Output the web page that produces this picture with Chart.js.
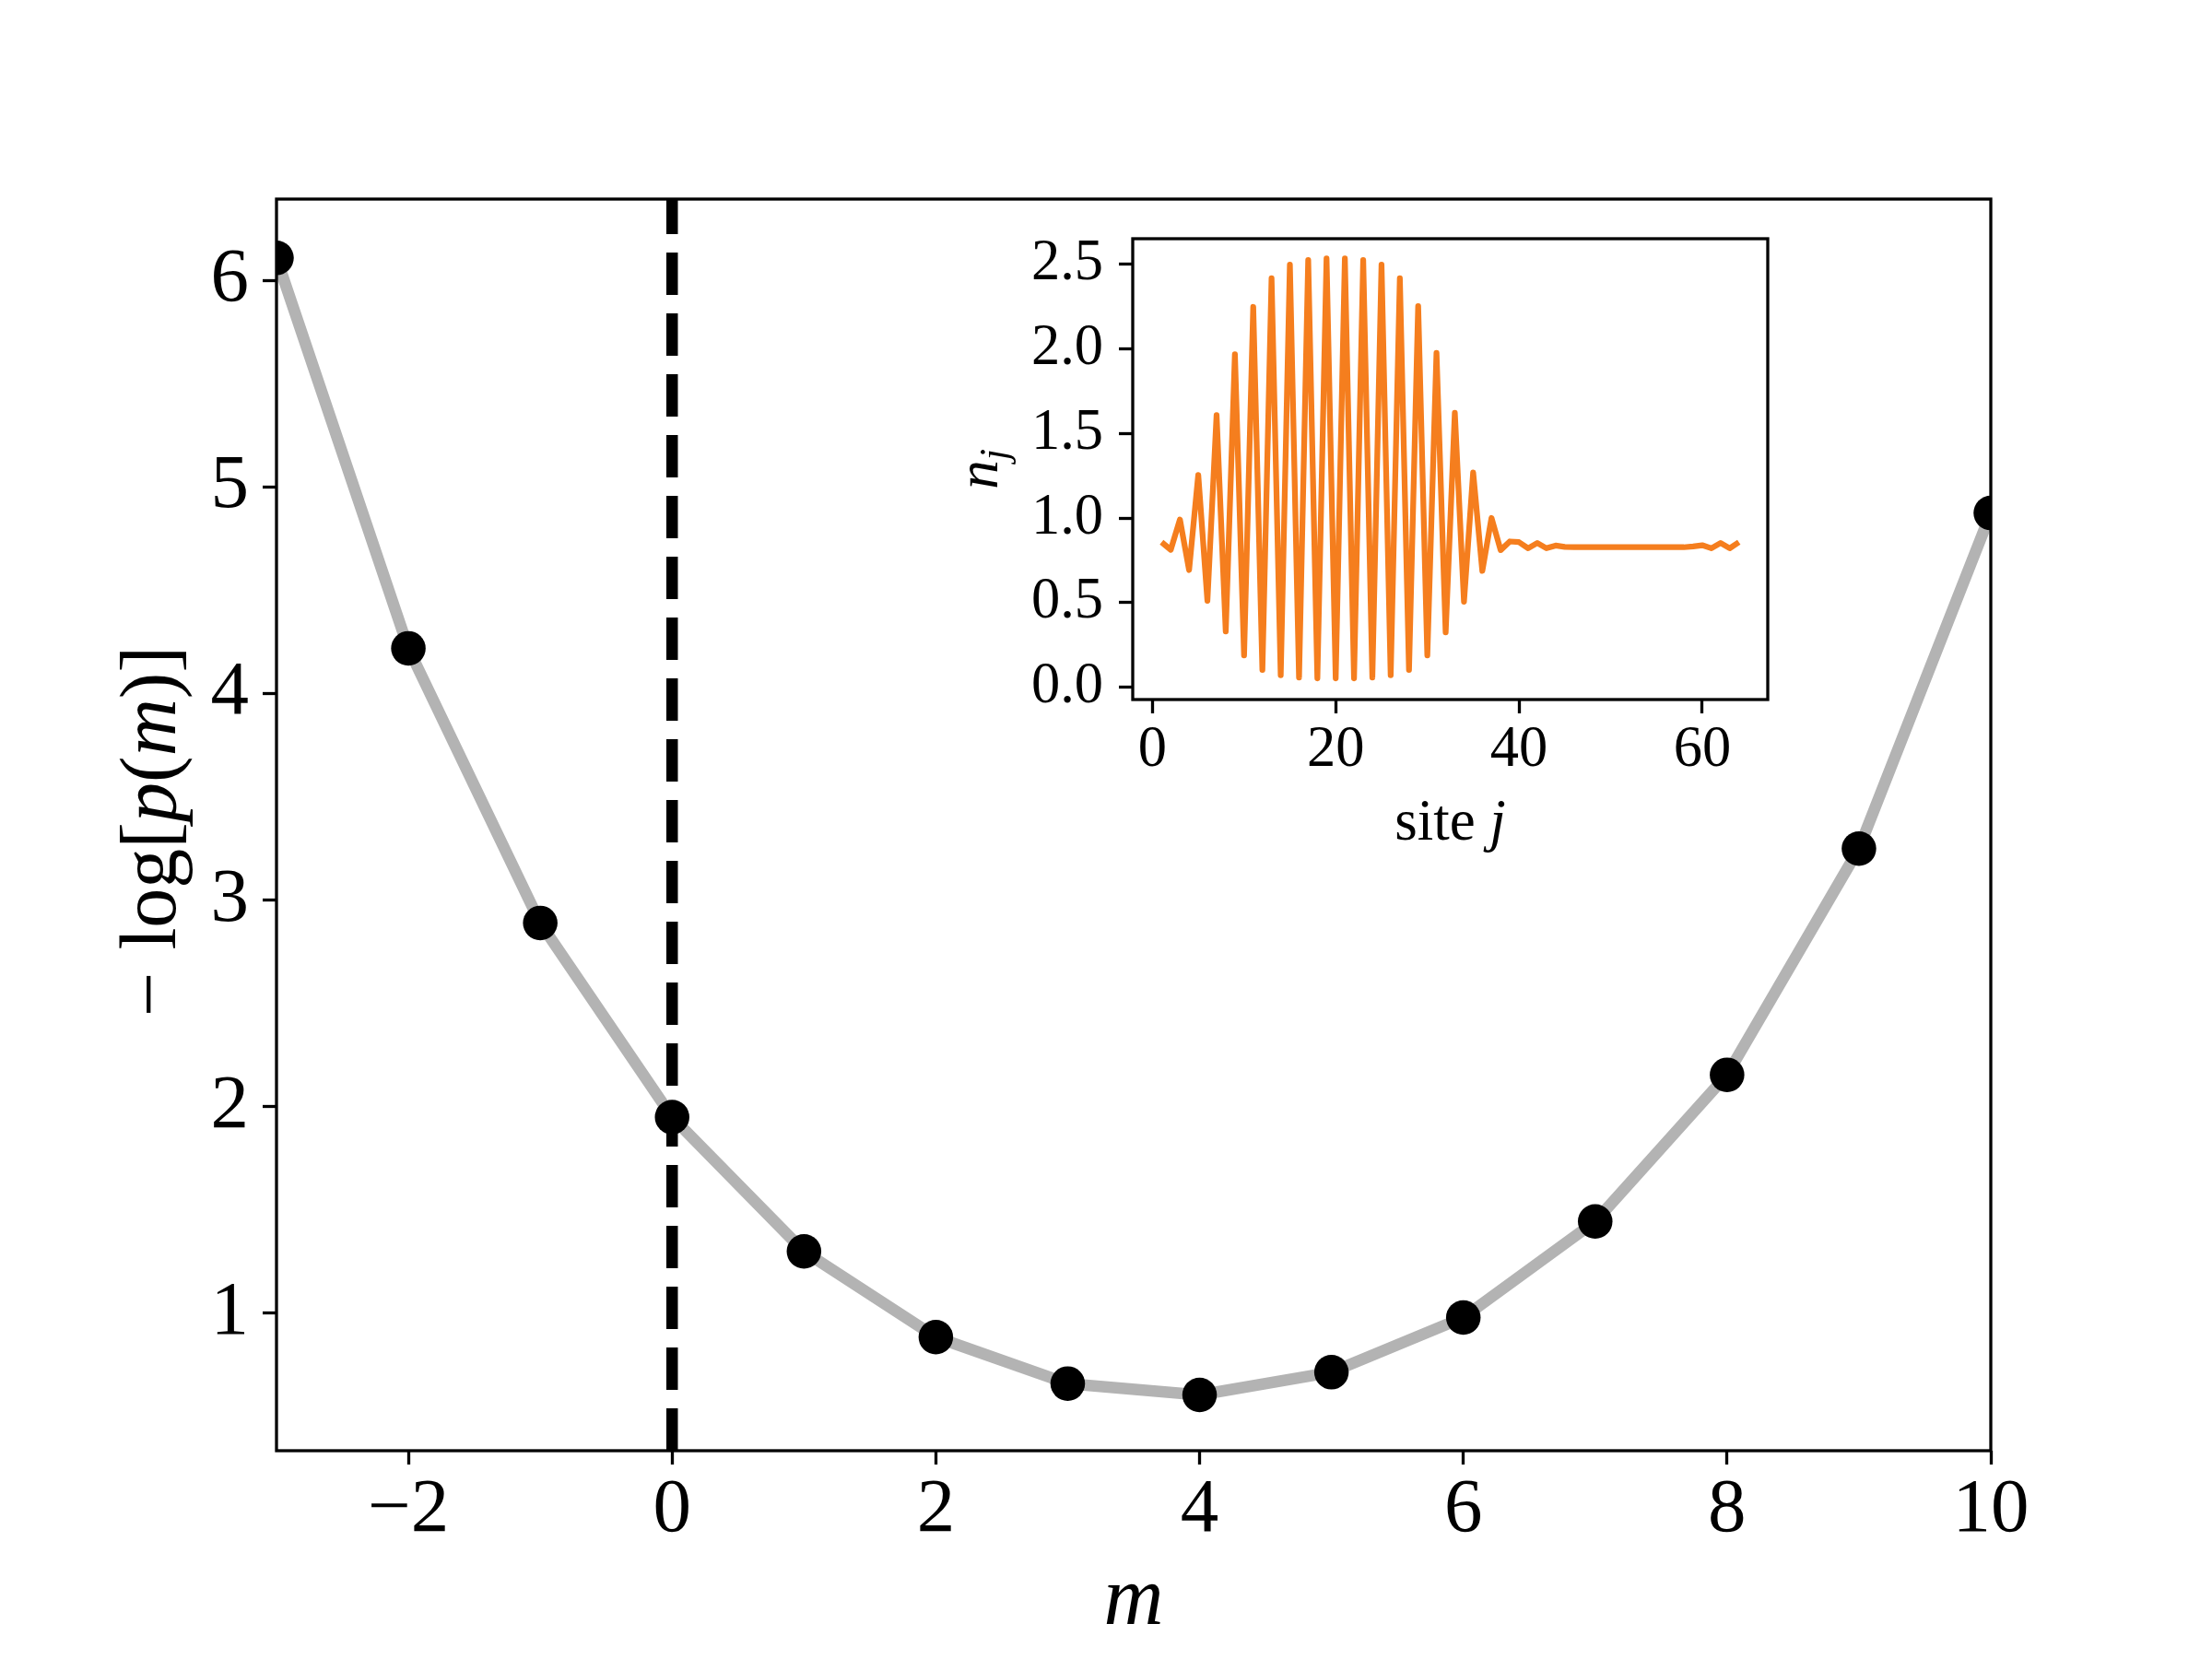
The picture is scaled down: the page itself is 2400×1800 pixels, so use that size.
<!DOCTYPE html>
<html>
<head>
<meta charset="utf-8">
<title>-log p(m) with site density inset</title>
<script src="https://cdn.jsdelivr.net/npm/chart.js@4.4.1/dist/chart.umd.min.js"></script>
<style>
    body { margin: 0; background: #fff; }
    #wrap { position: relative; width: 2400px; height: 1800px; background: #fff; }
    #mainChart { position: absolute; left: 0; top: 0; }
    #insetChart { position: absolute; left: 1000px; top: 230px; }
</style>
</head>
<body>
<div id="wrap">
    <canvas id="mainChart" width="2400" height="1800"></canvas>
    <canvas id="insetChart" width="950" height="700"></canvas>
</div>
<script>
// main panel: -log p(m) vs m
const mValues = [-3, -2, -1, 0, 1, 2, 3, 4, 5, 6, 7, 8, 9, 10];
const negLogP = [6.11, 4.22, 2.89, 1.95, 1.30, 0.885, 0.66, 0.605, 0.715, 0.98, 1.445, 2.155, 3.25, 4.875];
const mTicks = [-2, 0, 2, 4, 6, 8, 10];
const negLogPTicks = [1, 2, 3, 4, 5, 6];
const mRange = [-3, 10];
const negLogPRange = [0.335, 6.395];
const markerLineM = 0; // dashed vertical line

// inset: density n_j per site j
const sites = [1, 2, 3, 4, 5, 6, 7, 8, 9, 10, 11, 12, 13, 14, 15, 16, 17, 18, 19, 20,
    21, 22, 23, 24, 25, 26, 27, 28, 29, 30, 31, 32, 33, 34, 35, 36, 37, 38, 39, 40,
    41, 42, 43, 44, 45, 46, 47, 48, 49, 50, 51, 52, 53, 54, 55, 56, 57, 58, 59, 60,
    61, 62, 63, 64];
const density = [0.858, 0.813, 0.992, 0.693, 1.255, 0.512, 1.609, 0.330, 1.968, 0.189,
    2.248, 0.103, 2.417, 0.071, 2.498, 0.058, 2.525, 0.053, 2.534, 0.053,
    2.534, 0.053, 2.525, 0.058, 2.498, 0.071, 2.417, 0.103, 2.253, 0.189,
    1.977, 0.325, 1.622, 0.506, 1.270, 0.688, 1.001, 0.811, 0.862, 0.858,
    0.822, 0.853, 0.822, 0.838, 0.830, 0.828, 0.828, 0.828, 0.828, 0.828,
    0.828, 0.828, 0.828, 0.828, 0.828, 0.828, 0.828, 0.828, 0.833, 0.840,
    0.822, 0.853, 0.822, 0.858];
const siteTicks = [0, 20, 40, 60];
const densityTicks = [0.0, 0.5, 1.0, 1.5, 2.0, 2.5];
const siteRange = [-2.15, 67.15];
const densityRange = [-0.072, 2.651];

const FONT = 'Liberation Serif';

function partFont(part, size) {
    return (part.italic ? 'italic ' : '') + Math.round(size * (part.scale || 1)) + 'px "' + FONT + '"';
}

// axis labels with mixed upright / italic pieces
function drawRich(ctx, label, area) {
    const [x, y] = label.at(area);
    ctx.save();
    ctx.translate(x, y);
    if (label.rotate) ctx.rotate(label.rotate);
    ctx.fillStyle = '#000';
    ctx.textBaseline = 'alphabetic';
    ctx.textAlign = 'left';
    let total = 0;
    const widths = label.parts.map(p => {
        ctx.font = partFont(p, label.size);
        const w = ctx.measureText(p.text).width + (p.gap || 0);
        total += w;
        return w;
    });
    let cx = -total / 2;
    label.parts.forEach((p, i) => {
        ctx.font = partFont(p, label.size);
        ctx.fillText(p.text, cx, (p.shift || 0) * label.size);
        cx += widths[i];
    });
    ctx.restore();
}

// box around the axes, optional white fill, and the axis titles
function makeFrame(cfg) {
    return {
        id: 'frame',
        beforeDraw(chart) {
            if (!cfg.fill) return;
            const { ctx, chartArea: a } = chart;
            ctx.save();
            ctx.fillStyle = cfg.fill;
            ctx.fillRect(a.left, a.top, a.right - a.left, a.bottom - a.top);
            ctx.restore();
        },
        afterDatasetsDraw(chart) {
            const { ctx, chartArea: a } = chart;
            ctx.save();
            ctx.strokeStyle = '#000';
            ctx.lineWidth = cfg.width;
            ctx.strokeRect(a.left, a.top, a.right - a.left, a.bottom - a.top);
            ctx.restore();
        },
        afterDraw(chart) {
            cfg.labels.forEach(l => drawRich(chart.ctx, l, chart.chartArea));
        }
    };
}

function axis(range, tickValues, size, pad, fmt, fitFn) {
    return {
        type: 'linear',
        min: range[0],
        max: range[1],
        afterBuildTicks: s => { s.ticks = tickValues.map(v => ({ value: v })); },
        afterFit: s => {
            fitFn(s);
            s.paddingTop = 0;
            s.paddingBottom = 0;
            s.paddingLeft = 0;
            s.paddingRight = 0;
        },
        grid: { display: true, drawOnChartArea: false, drawTicks: true, tickLength: 15, tickWidth: 3.3, tickColor: '#000' },
        border: { display: false },
        ticks: {
            color: '#000',
            font: { family: FONT, size: size, lineHeight: 1 },
            padding: pad,
            autoSkip: false,
            maxRotation: 0,
            minRotation: 0,
            callback: fmt
        }
    };
}

const fmtSigned = v => (v < 0 ? '\u2212' + (-v) : String(v));

new Chart(document.getElementById('mainChart').getContext('2d'), {
    type: 'line',
    data: {
        datasets: [
            {
                data: mValues.map((m, i) => ({ x: m, y: negLogP[i] })),
                showLine: false,
                pointRadius: 18.75,
                pointHoverRadius: 18.75,
                pointBackgroundColor: '#000',
                pointBorderWidth: 0,
                clip: 0
            },
            {
                data: [{ x: markerLineM, y: negLogPRange[0] }, { x: markerLineM, y: negLogPRange[1] }],
                borderColor: '#000',
                borderWidth: 12.5,
                borderDash: [46, 20],
                borderCapStyle: 'butt',
                pointRadius: 0,
                clip: 0
            },
            {
                data: mValues.map((m, i) => ({ x: m, y: negLogP[i] })),
                borderColor: '#b3b3b3',
                borderWidth: 12.5,
                borderJoinStyle: 'round',
                tension: 0,
                pointRadius: 0,
                clip: 0
            }
        ]
    },
    options: {
        responsive: false,
        animation: false,
        devicePixelRatio: 1,
        layout: { padding: { left: 0, right: 240, top: 216, bottom: 0 } },
        plugins: {
            legend: { display: false },
            tooltip: { enabled: false }
        },
        scales: {
            x: axis(mRange, mTicks, 83, 9, fmtSigned, s => { s.height = 226; }),
            y: axis(negLogPRange, negLogPTicks, 83, 15, fmtSigned, s => { s.width = 300; })
        }
    },
    plugins: [makeFrame({
        width: 3.3,
        labels: [
            {
                size: 90,
                at: a => [(a.left + a.right) / 2, a.bottom + 188],
                parts: [{ text: 'm', italic: true }]
            },
            {
                size: 86,
                rotate: -Math.PI / 2,
                at: a => [a.left - 110, 902],
                parts: [
                    { text: '\u2212', gap: 24 },
                    { text: 'log' },
                    { text: '[' },
                    { text: 'p', italic: true },
                    { text: '(' },
                    { text: 'm', italic: true },
                    { text: ')' },
                    { text: ']' }
                ]
            }
        ]
    })]
});

new Chart(document.getElementById('insetChart').getContext('2d'), {
    type: 'line',
    data: {
        datasets: [{
            data: sites.map((j, i) => ({ x: j, y: density[i] })),
            borderColor: '#f57e1e',
            borderWidth: 6.25,
            borderJoinStyle: 'round',
            tension: 0,
            pointRadius: 0,
            clip: 0
        }]
    },
    options: {
        responsive: false,
        animation: false,
        devicePixelRatio: 1,
        layout: { padding: { left: 0, right: 32, top: 29, bottom: 0 } },
        plugins: {
            legend: { display: false },
            tooltip: { enabled: false }
        },
        scales: {
            x: axis(siteRange, siteTicks, 62.5, 9, v => String(v), s => { s.height = 171; }),
            y: axis(densityRange, densityTicks, 62.5, 17, v => v.toFixed(1), s => { s.width = 229; })
        }
    },
    plugins: [makeFrame({
        width: 3.3,
        fill: '#fff',
        labels: [
            {
                size: 62.5,
                at: a => [(a.left + a.right) / 2, a.bottom + 152],
                parts: [{ text: 'site ' }, { text: 'j', italic: true }]
            },
            {
                size: 62.5,
                rotate: -Math.PI / 2,
                at: a => [a.left - 147, (a.top + a.bottom) / 2],
                parts: [
                    { text: 'n', italic: true },
                    { text: 'j', italic: true, scale: 0.7, shift: 0.18 }
                ]
            }
        ]
    })]
});
</script>
</body>
</html>
